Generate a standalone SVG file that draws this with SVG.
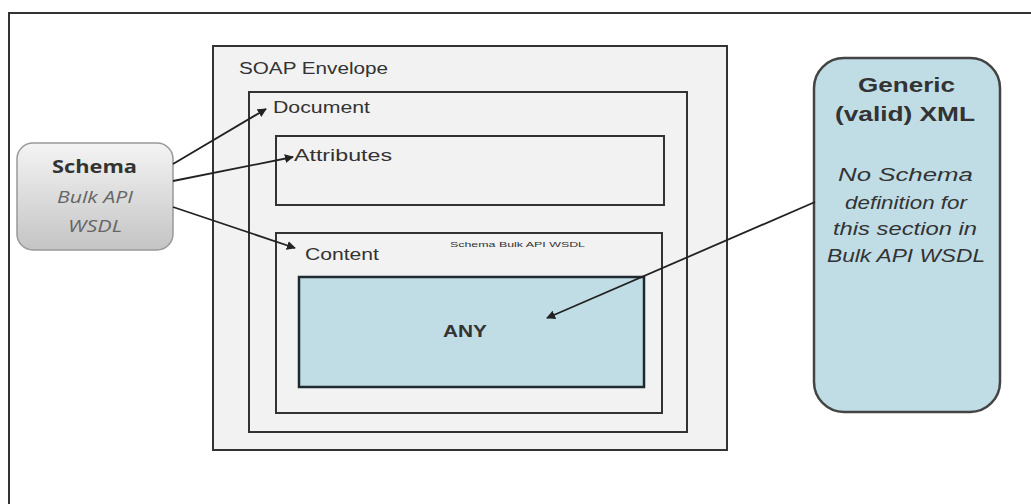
<svg xmlns="http://www.w3.org/2000/svg" width="1031" height="504" viewBox="0 0 1031 504">
<style>
.box{fill:#f2f2f2;stroke:#333;stroke-width:2}
.lbl{font-family:"Liberation Sans",Arial,sans-serif;fill:#333}
.cal{font-family:"Open Sans","Liberation Sans",sans-serif}
.conn{stroke:#222;stroke-width:1.8;fill:none;marker-end:url(#ah)}
</style>
<defs>
<linearGradient id="gs" x1="0" y1="0" x2="0" y2="1">
<stop offset="0" stop-color="#f4f4f4"/>
<stop offset="1" stop-color="#c4c4c4"/>
</linearGradient>
<marker id="ah" viewBox="0 0 10 10" refX="9" refY="5" markerWidth="5" markerHeight="5" orient="auto" markerUnits="strokeWidth">
<path d="M0,0 L10,5 L0,10 Z" fill="#222"/>
</marker>
</defs>
<rect width="1031" height="504" fill="#fff"/>
<g id="frame"><rect x="9" y="13" width="1040" height="520" fill="none" stroke="#333" stroke-width="2"/></g>
<g id="soap"><rect class="box" x="213" y="46" width="514" height="404" stroke="#444"/>
<text class="lbl" x="239" y="74" font-size="16" textLength="149" lengthAdjust="spacingAndGlyphs">SOAP Envelope</text></g>
<g id="document"><rect class="box" x="249" y="92" width="438" height="340"/>
<text class="lbl" x="273" y="113" font-size="16" textLength="97" lengthAdjust="spacingAndGlyphs">Document</text></g>
<g id="attributes"><rect class="box" x="276" y="136" width="388" height="69" stroke="#111" stroke-width="2.5"/>
<text class="lbl" x="294" y="161" font-size="16" textLength="98" lengthAdjust="spacingAndGlyphs">Attributes</text></g>
<g id="content"><rect class="box" x="276" y="233" width="386" height="180" stroke="#222" stroke-width="2.5"/>
<text class="lbl" x="305" y="260" font-size="16" textLength="74" lengthAdjust="spacingAndGlyphs">Content</text>
<text class="lbl" x="450" y="247" font-size="8" fill="#555" textLength="135" lengthAdjust="spacingAndGlyphs">Schema Bulk API WSDL</text></g>
<g id="any"><rect x="299" y="277" width="345" height="110" fill="#c0dde6" stroke="#1e2a30" stroke-width="2.5"/>
<text class="lbl" x="443" y="337" font-size="17" font-weight="bold" fill="#222" textLength="44" lengthAdjust="spacingAndGlyphs">ANY</text></g>
<g id="schema"><rect x="17" y="143" width="156" height="107" rx="16" fill="url(#gs)" stroke="#999" stroke-width="1.5"/>
<text class="cal" x="52" y="173" font-size="18" font-weight="bold" fill="#333" textLength="85" lengthAdjust="spacingAndGlyphs">Schema</text>
<text class="cal" x="57" y="203" font-size="16" font-style="italic" fill="#666" textLength="76" lengthAdjust="spacingAndGlyphs">Bulk API</text>
<text class="cal" x="68" y="232" font-size="16" font-style="italic" fill="#666" textLength="54" lengthAdjust="spacingAndGlyphs">WSDL</text></g>
<g id="generic"><rect x="814" y="58" width="186" height="354" rx="30" fill="#c0dde6" stroke="#444" stroke-width="2.5"/>
<text class="lbl" x="858" y="92" font-size="20" font-weight="bold" textLength="97" lengthAdjust="spacingAndGlyphs">Generic</text>
<text class="lbl" x="835" y="121" font-size="20" font-weight="bold" textLength="140" lengthAdjust="spacingAndGlyphs">(valid) XML</text>
<g class="lbl" font-size="17.5" font-style="italic" fill="#555">
<text x="838" y="181" textLength="135" lengthAdjust="spacingAndGlyphs">No Schema</text>
<text x="845" y="209" textLength="122" lengthAdjust="spacingAndGlyphs">definition for</text>
<text x="833" y="235" textLength="144" lengthAdjust="spacingAndGlyphs">this section in</text>
<text x="827" y="262" textLength="158" lengthAdjust="spacingAndGlyphs">Bulk API WSDL</text></g></g>
<g id="connectors">
<line class="conn" x1="173" y1="164" x2="266" y2="109"/>
<line class="conn" x1="173" y1="181" x2="293" y2="157"/>
<line class="conn" x1="173" y1="207" x2="295" y2="248"/>
<line class="conn" x1="815" y1="202" x2="547" y2="318"/>
</g>
</svg>
